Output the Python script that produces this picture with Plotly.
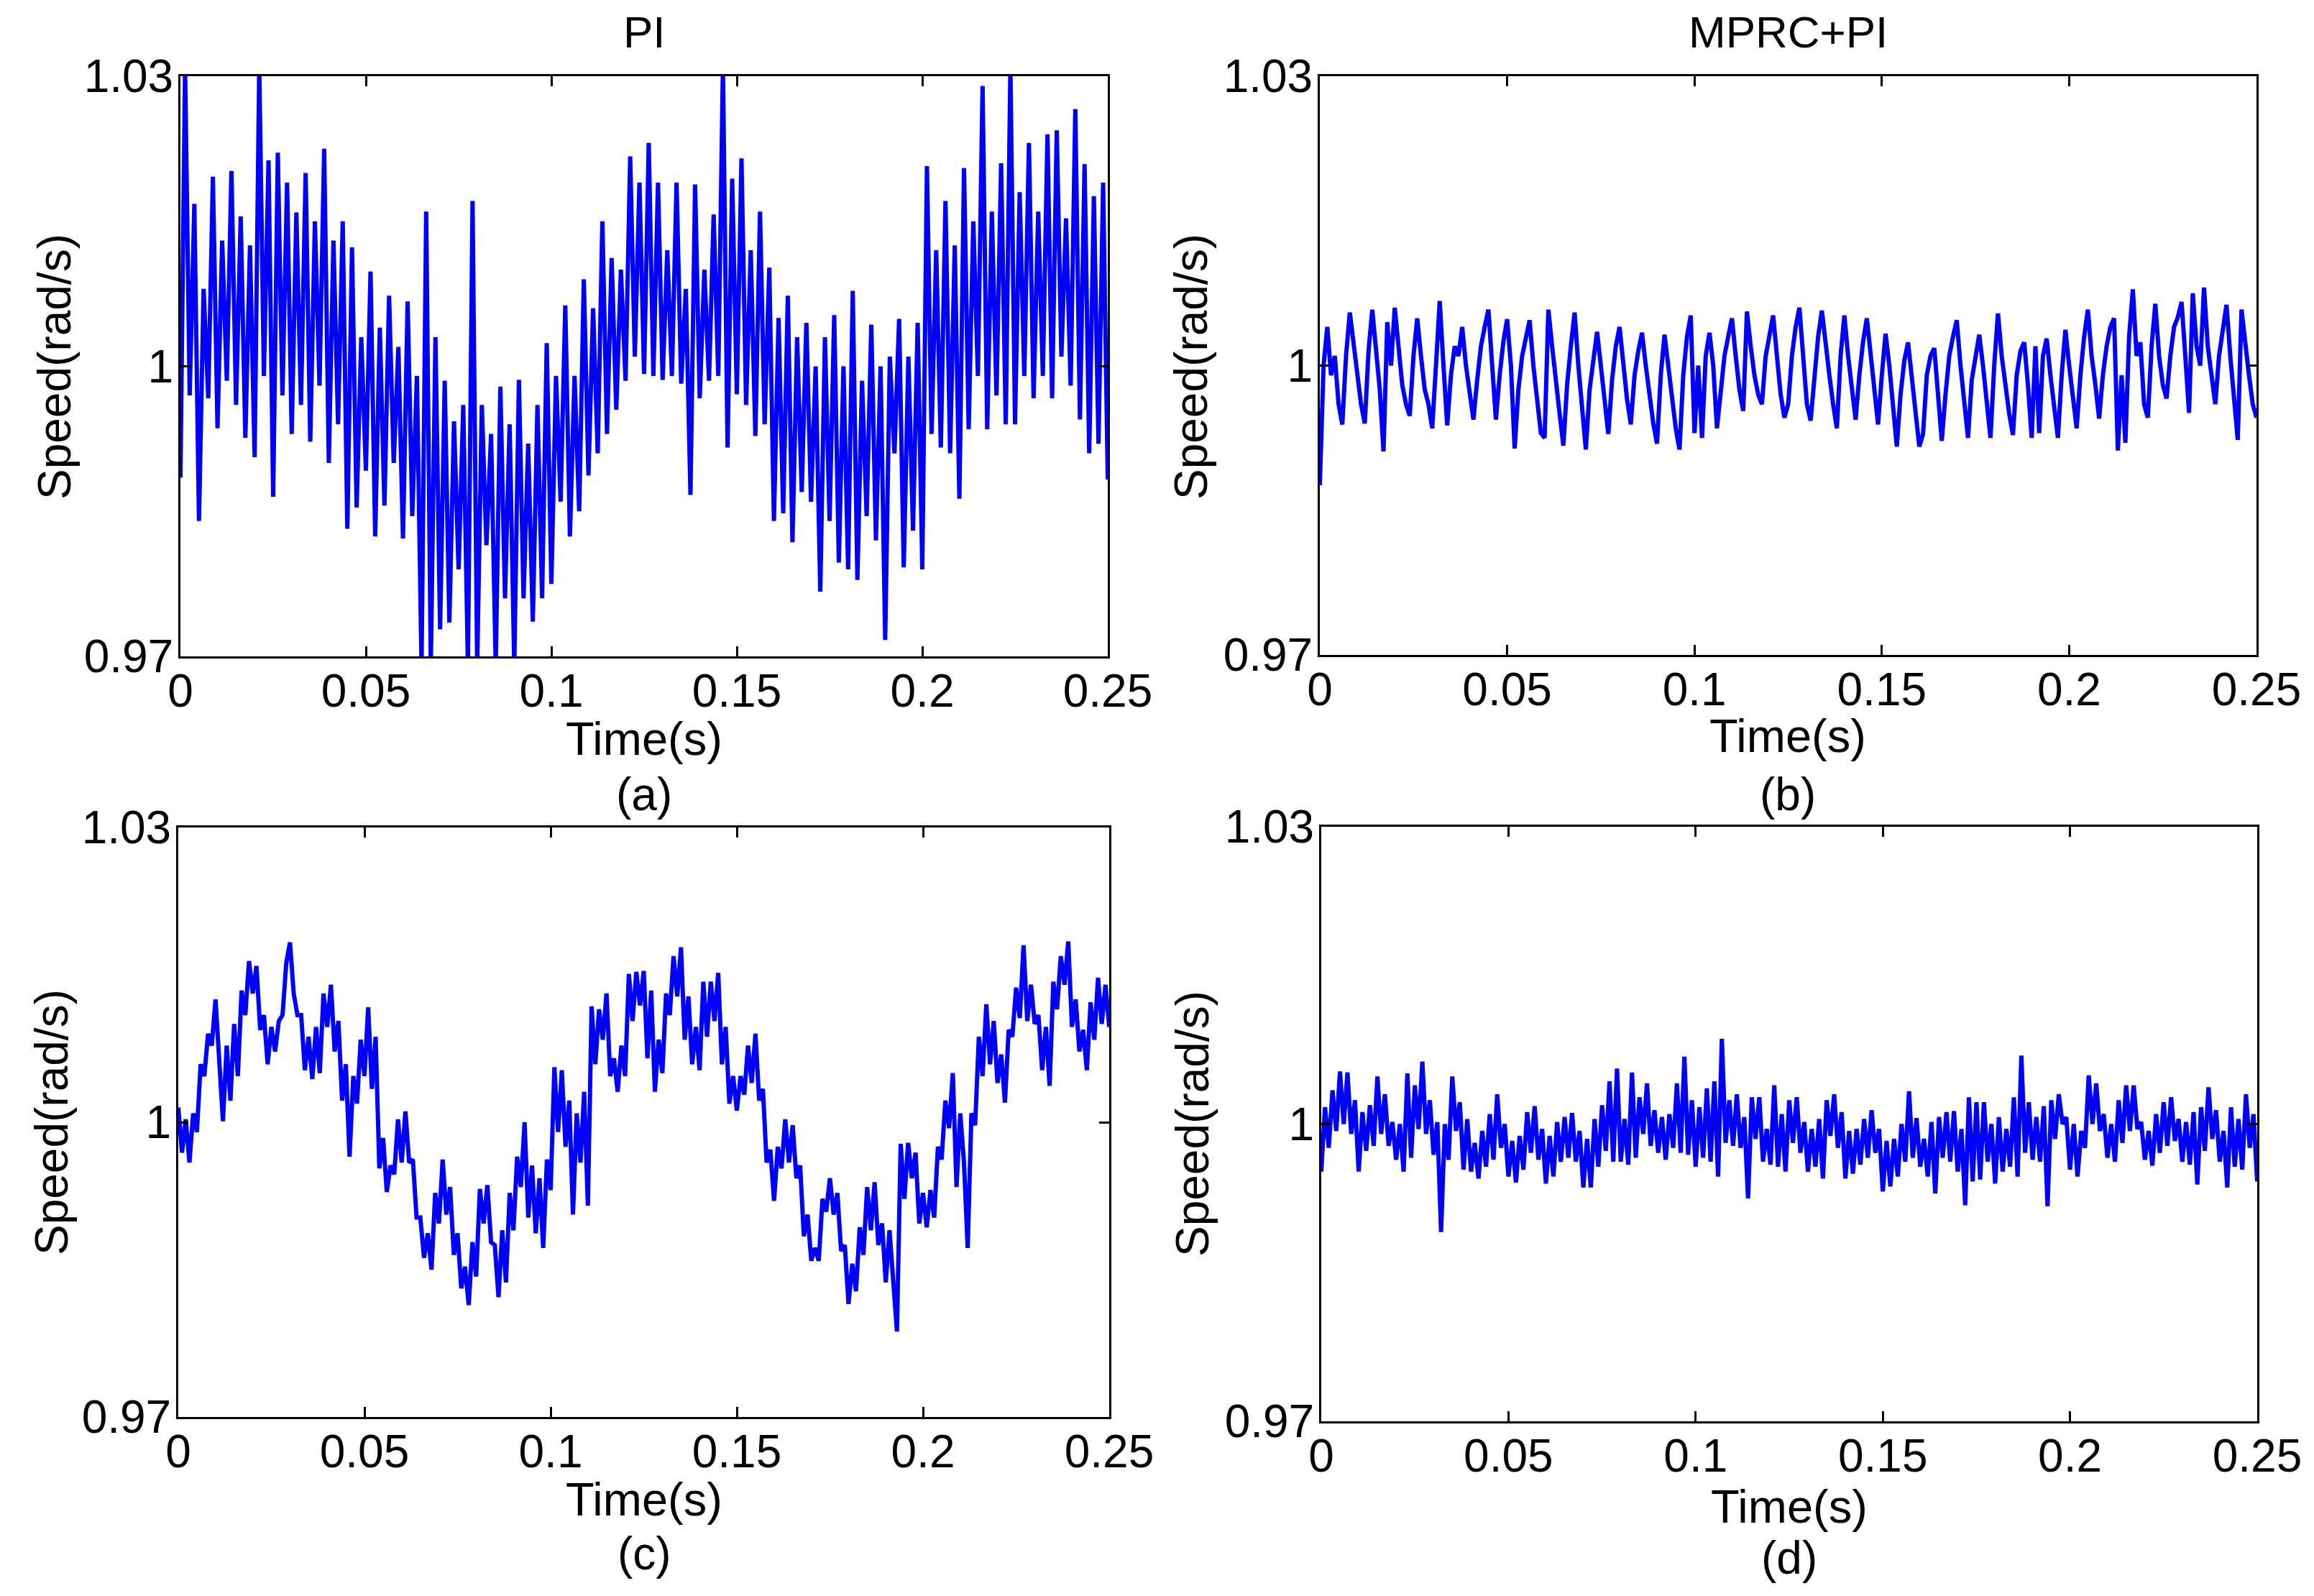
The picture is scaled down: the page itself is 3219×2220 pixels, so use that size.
import plotly.graph_objects as go
import numpy as np

# Speed traces (rad/s, per unit)
# (a) PI, sampled every 1.25 ms
speed_a = [
    0.9885, 1.0310, 0.9970, 1.0168, 0.9840, 1.0080, 0.9967, 1.0196, 0.9936, 1.0130,
    0.9985, 1.0202, 0.9960, 1.0155, 0.9926, 1.0125, 0.9906, 1.0310, 0.9990, 1.0213,
    0.9865, 1.0221, 0.9970, 1.0190, 0.9930, 1.0159, 0.9960, 1.0200, 0.9922, 1.0150,
    0.9980, 1.0225, 0.9900, 1.0130, 0.9940, 1.0150, 0.9832, 1.0123, 0.9854, 1.0030,
    0.9892, 1.0098, 0.9824, 1.0040, 0.9856, 1.0073, 0.9900, 1.0020, 0.9822, 1.0067,
    0.9845, 0.9990, 0.9690, 1.0160, 0.9690, 1.0030, 0.9728, 0.9985, 0.9735, 0.9943,
    0.9790, 0.9960, 0.9690, 1.0171, 0.9690, 0.9960, 0.9815, 0.9930, 0.9690, 0.9979,
    0.9760, 0.9940, 0.9690, 0.9986, 0.9760, 0.9920, 0.9736, 0.9960, 0.9760, 1.0024,
    0.9775, 0.9990, 0.9860, 1.0063, 0.9824, 0.9990, 0.9850, 1.0090, 0.9887, 1.0060,
    0.9910, 1.0150, 0.9930, 1.0112, 0.9955, 1.0100, 0.9985, 1.0217, 1.0010, 1.0190,
    0.9992, 1.0231, 0.9990, 1.0190, 0.9986, 1.0120, 0.9990, 1.0190, 0.9982, 1.0080,
    0.9867, 1.0188, 0.9967, 1.0100, 0.9985, 1.0157, 0.9990, 1.0310, 0.9916, 1.0194,
    0.9971, 1.0215, 0.9960, 1.0120, 0.9928, 1.0160, 0.9940, 1.0102, 0.9840, 1.0050,
    0.9848, 1.0073, 0.9818, 1.0030, 0.9870, 1.0045, 0.9860, 1.0000, 0.9767, 1.0030,
    0.9840, 1.0053, 0.9797, 1.0000, 0.9790, 1.0078, 0.9779, 0.9985, 0.9845, 1.0043,
    0.9820, 1.0000, 0.9717, 1.0010, 0.9910, 1.0049, 0.9792, 1.0010, 0.9830, 1.0045,
    0.9790, 1.0207, 0.9930, 1.0120, 0.9916, 1.0171, 0.9910, 1.0125, 0.9863, 1.0205,
    0.9935, 1.0150, 0.9990, 1.0290, 0.9935, 1.0160, 0.9970, 1.0210, 0.9940, 1.0310,
    0.9940, 1.0180, 0.9990, 1.0231, 0.9967, 1.0160, 0.9990, 1.0240, 0.9967, 1.0244,
    1.0010, 1.0153, 0.9980, 1.0266, 0.9945, 1.0209, 0.9910, 1.0176, 0.9920, 1.0190,
    0.9883,
]

# (b) MPRC+PI, sampled every 1 ms
speed_b = [
    0.9876, 1.0000, 1.0040, 0.9990, 1.0010, 0.9960, 0.9939, 1.0010, 1.0055, 1.0020,
    0.9985, 0.9960, 0.9940, 1.0015, 1.0058, 1.0010, 0.9975, 0.9911, 1.0045, 1.0000,
    1.0060, 1.0020, 0.9980, 0.9960, 0.9948, 1.0010, 1.0049, 1.0010, 0.9975, 0.9960,
    0.9935, 1.0000, 1.0067, 1.0000, 0.9938, 0.9990, 1.0020, 1.0010, 1.0040, 1.0000,
    0.9970, 0.9944, 0.9985, 1.0020, 1.0040, 1.0058, 1.0000, 0.9944, 0.9990, 1.0025,
    1.0048, 1.0000, 0.9914, 0.9975, 1.0010, 1.0030, 1.0047, 1.0000, 0.9960, 0.9930,
    0.9925, 1.0058, 1.0020, 0.9980, 0.9950, 0.9917, 0.9980, 1.0020, 1.0055, 1.0000,
    0.9960, 0.9913, 0.9975, 1.0010, 1.0035, 1.0000, 0.9960, 0.9929, 0.9985, 1.0020,
    1.0040, 1.0000, 0.9965, 0.9939, 0.9990, 1.0015, 1.0034, 1.0000, 0.9965, 0.9940,
    0.9919, 0.9990, 1.0032, 1.0000, 0.9960, 0.9935, 0.9913, 0.9990, 1.0030, 1.0052,
    0.9930, 1.0000, 0.9925, 1.0010, 1.0034, 1.0000, 0.9935, 0.9970, 1.0010, 1.0030,
    1.0049, 1.0010, 0.9975, 0.9953, 1.0056, 1.0020, 0.9990, 0.9970, 0.9960, 1.0010,
    1.0030, 1.0052, 1.0010, 0.9970, 0.9946, 0.9960, 1.0010, 1.0040, 1.0060, 1.0010,
    0.9960, 0.9943, 0.9990, 1.0030, 1.0057, 1.0020, 0.9990, 0.9960, 0.9935, 1.0010,
    1.0052, 1.0010, 0.9975, 0.9944, 0.9990, 1.0025, 1.0049, 1.0010, 0.9970, 0.9939,
    0.9990, 1.0033, 1.0000, 0.9960, 0.9916, 0.9970, 1.0005, 1.0024, 0.9990, 0.9950,
    0.9916, 0.9929, 0.9990, 1.0010, 1.0018, 0.9970, 0.9922, 0.9970, 1.0010, 1.0030,
    1.0047, 1.0000, 0.9960, 0.9925, 0.9985, 1.0010, 1.0032, 1.0000, 0.9960, 0.9925,
    1.0000, 1.0054, 1.0010, 0.9975, 0.9950, 0.9928, 0.9990, 1.0015, 1.0024, 0.9980,
    0.9925, 1.0020, 0.9930, 1.0010, 1.0028, 0.9990, 0.9960, 0.9925, 0.9990, 1.0037,
    1.0000, 0.9970, 0.9935, 0.9990, 1.0030, 1.0058, 1.0010, 0.9980, 0.9945, 0.9990,
    1.0020, 1.0040, 1.0049, 0.9912, 0.9990, 0.9920, 1.0030, 1.0079, 1.0010, 1.0024,
    0.9960, 0.9946, 1.0020, 1.0064, 1.0010, 0.9980, 0.9966, 1.0010, 1.0040, 1.0050,
    1.0066, 1.0010, 0.9951, 1.0075, 1.0020, 1.0000, 1.0081, 1.0020, 0.9990, 0.9960,
    1.0010, 1.0040, 1.0063, 1.0010, 0.9970, 0.9923, 1.0058, 1.0020, 0.9990, 0.9960,
    0.9946,
]

# (c) PI, sampled every 1 ms
speed_c = [
    1.0015, 0.9969, 1.0003, 0.9959, 1.0009, 0.9990, 1.0059, 1.0047, 1.0090, 1.0078,
    1.0125, 1.0065, 1.0001, 1.0078, 1.0022, 1.0100, 1.0047, 1.0134, 1.0109, 1.0164,
    1.0131, 1.0159, 1.0094, 1.0109, 1.0059, 1.0097, 1.0072, 1.0103, 1.0109, 1.0162,
    1.0183, 1.0131, 1.0109, 1.0109, 1.0053, 1.0087, 1.0044, 1.0097, 1.0050, 1.0131,
    1.0097, 1.0140, 1.0072, 1.0103, 1.0022, 1.0059, 0.9965, 1.0047, 1.0019, 1.0084,
    1.0047, 1.0117, 1.0034, 1.0087, 0.9953, 0.9984, 0.9929, 0.9956, 0.9947, 1.0003,
    0.9959, 1.0011, 0.9959, 0.9962, 0.9903, 0.9903, 0.9862, 0.9887, 0.9850, 0.9928,
    0.9897, 0.9962, 0.9906, 0.9934, 0.9865, 0.9887, 0.9831, 0.9853, 0.9814, 0.9878,
    0.9843, 0.9932, 0.9897, 0.9936, 0.9878, 0.9875, 0.9822, 0.9890, 0.9837, 0.9928,
    0.9890, 0.9965, 0.9934, 1.0000, 0.9903, 0.9956, 0.9887, 0.9943, 0.9872, 0.9962,
    0.9931, 1.0056, 0.9990, 1.0053, 0.9975, 1.0022, 0.9906, 1.0009, 0.9959, 1.0031,
    0.9915, 1.0118, 1.0059, 1.0115, 1.0084, 1.0131, 1.0047, 1.0065, 1.0031, 1.0078,
    1.0047, 1.0151, 1.0103, 1.0153, 1.0119, 1.0154, 1.0065, 1.0134, 1.0031, 1.0084,
    1.0050, 1.0131, 1.0109, 1.0169, 1.0128, 1.0178, 1.0084, 1.0128, 1.0059, 1.0097,
    1.0053, 1.0143, 1.0087, 1.0143, 1.0103, 1.0152, 1.0059, 1.0097, 1.0019, 1.0047,
    1.0012, 1.0047, 1.0028, 1.0078, 1.0040, 1.0090, 1.0022, 1.0034, 0.9959, 0.9972,
    0.9920, 0.9975, 0.9953, 1.0003, 0.9959, 0.9997, 0.9943, 0.9956, 0.9884, 0.9906,
    0.9859, 0.9872, 0.9859, 0.9922, 0.9909, 0.9943, 0.9906, 0.9928, 0.9869, 0.9875,
    0.9815, 0.9856, 0.9828, 0.9893, 0.9865, 0.9934, 0.9890, 0.9939, 0.9875, 0.9897,
    0.9837, 0.9890, 0.9837, 0.9787, 0.9978, 0.9922, 0.9979, 0.9943, 0.9969, 0.9897,
    0.9928, 0.9893, 0.9931, 0.9903, 0.9975, 0.9962, 1.0022, 0.9994, 1.0050, 0.9934,
    1.0009, 0.9959, 0.9872, 1.0009, 0.9997, 1.0087, 1.0047, 1.0120, 1.0059, 1.0103,
    1.0040, 1.0069, 1.0020, 1.0094, 1.0087, 1.0137, 1.0106, 1.0180, 1.0103, 1.0140,
    1.0100, 1.0109, 1.0053, 1.0097, 1.0037, 1.0143, 1.0115, 1.0169, 1.0140, 1.0184,
    1.0097, 1.0125, 1.0072, 1.0094, 1.0053, 1.0122, 1.0084, 1.0147, 1.0100, 1.0140,
    1.0097,
]

# (d) MPRC+PI, sampled every 1 ms
speed_d = [
    0.9952, 1.0017, 0.9976, 1.0034, 0.9993, 1.0053, 1.0000, 1.0052, 0.9990, 1.0024,
    0.9952, 1.0012, 0.9973, 1.0019, 0.9978, 1.0048, 0.9990, 1.0030, 0.9978, 1.0002,
    0.9964, 1.0000, 0.9952, 1.0051, 0.9966, 1.0039, 0.9995, 1.0063, 0.9990, 1.0024,
    0.9969, 1.0002, 0.9891, 1.0000, 0.9964, 1.0048, 0.9993, 1.0022, 0.9954, 1.0005,
    0.9952, 0.9981, 0.9945, 0.9993, 0.9957, 1.0010, 0.9964, 1.0030, 0.9976, 1.0000,
    0.9947, 0.9983, 0.9941, 0.9988, 0.9954, 1.0012, 0.9971, 1.0018, 0.9964, 0.9995,
    0.9940, 0.9988, 0.9947, 1.0002, 0.9962, 1.0007, 0.9966, 1.0011, 0.9962, 0.9993,
    0.9936, 0.9985, 0.9936, 1.0005, 0.9957, 1.0019, 0.9973, 1.0043, 0.9962, 1.0056,
    0.9962, 1.0005, 0.9959, 1.0052, 0.9966, 1.0027, 0.9990, 1.0041, 0.9978, 1.0014,
    0.9971, 1.0007, 0.9964, 1.0010, 0.9976, 1.0041, 0.9971, 1.0068, 0.9969, 1.0024,
    0.9957, 1.0017, 0.9966, 1.0036, 0.9962, 1.0043, 0.9947, 1.0086, 0.9981, 1.0024,
    0.9978, 1.0030, 0.9976, 1.0007, 0.9925, 1.0027, 0.9985, 1.0027, 0.9962, 0.9995,
    0.9959, 1.0039, 0.9957, 1.0010, 0.9952, 1.0024, 0.9981, 1.0027, 0.9971, 1.0002,
    0.9952, 0.9995, 0.9957, 1.0005, 0.9945, 1.0024, 0.9988, 1.0030, 0.9976, 1.0012,
    0.9945, 0.9993, 0.9950, 0.9995, 0.9959, 1.0005, 0.9966, 1.0014, 0.9971, 0.9995,
    0.9932, 0.9983, 0.9937, 0.9985, 0.9947, 1.0000, 0.9962, 1.0033, 0.9966, 1.0006,
    0.9957, 0.9985, 0.9947, 1.0002, 0.9930, 1.0007, 0.9966, 1.0012, 0.9962, 1.0013,
    0.9952, 0.9995, 0.9918, 1.0027, 0.9942, 1.0022, 0.9944, 1.0022, 0.9962, 1.0000,
    0.9940, 1.0007, 0.9952, 0.9995, 0.9957, 1.0027, 0.9947, 1.0069, 0.9971, 1.0022,
    0.9964, 1.0007, 0.9962, 1.0018, 0.9917, 1.0024, 0.9985, 1.0030, 1.0000, 1.0007,
    0.9954, 1.0000, 0.9947, 0.9993, 0.9976, 1.0049, 1.0000, 1.0041, 0.9993, 1.0010,
    0.9966, 1.0000, 0.9962, 1.0024, 0.9981, 1.0039, 0.9993, 1.0039, 0.9995, 1.0002,
    0.9964, 0.9993, 0.9958, 1.0010, 0.9971, 1.0022, 0.9978, 1.0027, 0.9983, 1.0005,
    0.9962, 1.0002, 0.9959, 1.0012, 0.9939, 1.0017, 0.9973, 1.0037, 0.9985, 1.0014,
    0.9962, 0.9993, 0.9936, 1.0017, 0.9957, 1.0005, 0.9954, 1.0030, 0.9976, 1.0010,
    0.9942,
]

time_ticks = [0, 0.05, 0.1, 0.15, 0.2, 0.25]
time_labels = ["0", "0.05", "0.1", "0.15", "0.2", "0.25"]
speed_ticks = [0.97, 1.0, 1.03]
speed_labels = ["0.97", "1", "1.03"]

FONT = "Liberation Sans, Arial, sans-serif"
BLUE = "rgb(0,0,255)"

# page is 3219x2220; browser body keeps an 8px margin, so the figure is 16px smaller
PAGE_PAD = 8
W, H = 3219 - 2 * PAGE_PAD, 2220 - 2 * PAGE_PAD


def fx(px):
    return (px - PAGE_PAD) / W


def fy(py):
    return 1 - (py - PAGE_PAD) / H


fig = go.Figure()

series = [speed_a, speed_b, speed_c, speed_d]
for i, s in enumerate(series):
    n = "" if i == 0 else str(i + 1)
    fig.add_trace(go.Scatter(
        x=np.linspace(0, 0.25, len(s)),
        y=s,
        mode="lines",
        line=dict(color=BLUE, width=6),
        xaxis="x" + n,
        yaxis="y" + n,
        showlegend=False,
    ))

# panel boxes in page pixels: left, right, top, bottom
boxes = [
    (251, 1541, 106, 913),
    (1836, 3139, 106, 911),
    (248, 1543, 1151, 1971),
    (1838, 3140, 1150, 1977),
]

common = dict(
    ticks="inside", ticklen=14, tickwidth=3, tickcolor="black",
    showline=True, linecolor="black", linewidth=3, mirror="allticks",
    showgrid=False, zeroline=False, automargin=False,
    tickfont=dict(family=FONT, size=64, color="black"),
)

layout_axes = {}
for i, (l, r, t, b) in enumerate(boxes):
    n = "" if i == 0 else str(i + 1)
    layout_axes["xaxis" + n] = dict(
        domain=[fx(l), fx(r)], anchor="y" + n, range=[0, 0.25],
        tickvals=time_ticks, ticktext=time_labels, ticklabelstandoff=-10, **common
    )
    layout_axes["yaxis" + n] = dict(
        domain=[fy(b), fy(t)], anchor="x" + n, range=[0.97, 1.03],
        tickvals=speed_ticks, ticktext=speed_labels, ticklabelstandoff=-6, **common
    )

annotations = []


def label(text, px, py, size=64, angle=0, anchor="middle"):
    annotations.append(dict(
        text=text, x=fx(px), y=fy(py), xref="paper", yref="paper",
        xanchor="center", yanchor=anchor, showarrow=False,
        textangle=angle, font=dict(family=FONT, size=size, color="black"),
    ))


# column titles, hung from the top edge of the figure
label("PI", 896, PAGE_PAD, size=62, anchor="top")
label("MPRC+PI", 2487, PAGE_PAD, size=62, anchor="top")

# x titles and sub-figure letters
label("Time(s)", 896, 1027, size=65)
label("Time(s)", 2487, 1023, size=65)
label("Time(s)", 896, 2085, size=65)
label("Time(s)", 2489, 2095, size=65)
label("(a)", 896, 1105)
label("(b)", 2487, 1105)
label("(c)", 896, 2161)
label("(d)", 2489, 2167)

# y titles
label("Speed(rad/s)", 76, 510, angle=-90)
label("Speed(rad/s)", 1657, 510, angle=-90)
label("Speed(rad/s)", 72, 1561, angle=-90)
label("Speed(rad/s)", 1659, 1563, angle=-90)

fig.update_layout(
    width=W, height=H,
    margin=dict(l=0, r=0, t=0, b=0, autoexpand=False),
    paper_bgcolor="white", plot_bgcolor="white",
    font=dict(family=FONT, color="black"),
    annotations=annotations,
    **layout_axes
)

fig.write_html("out.html")
